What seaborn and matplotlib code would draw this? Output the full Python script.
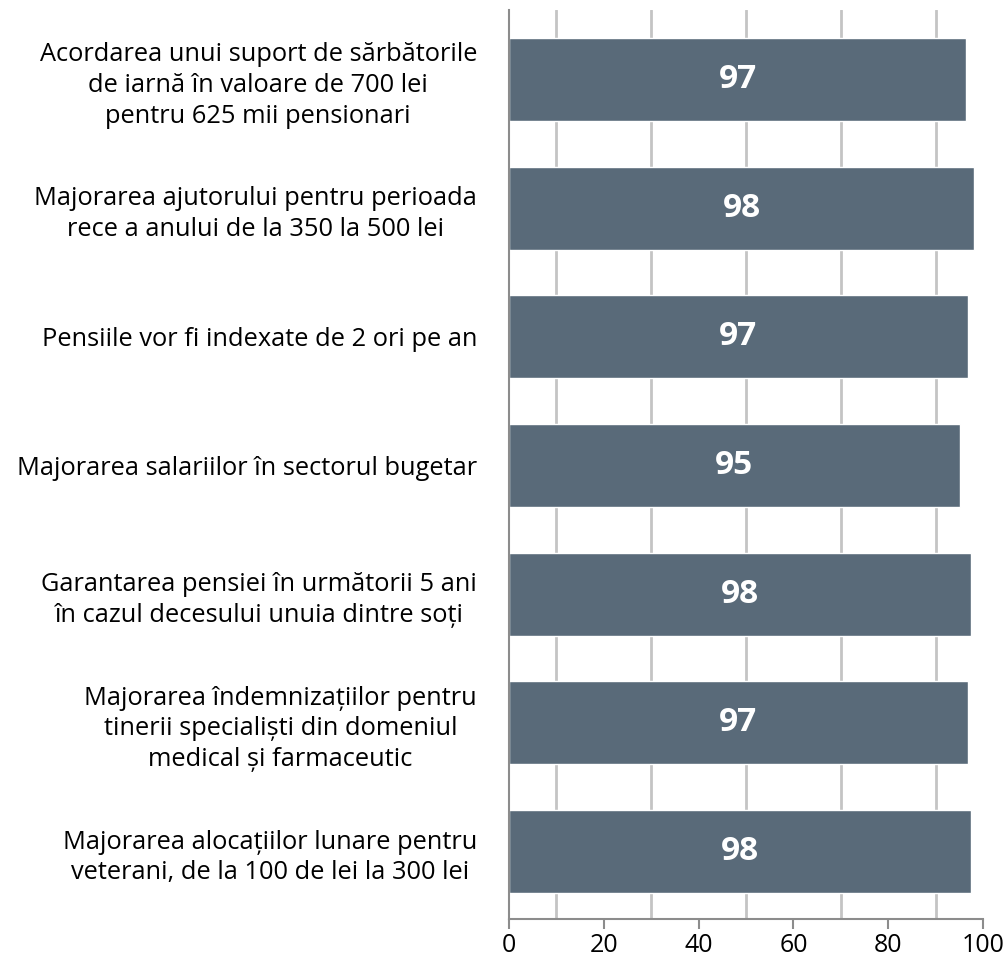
import matplotlib
matplotlib.use("Agg")
import matplotlib.pyplot as plt
import seaborn as sns
import pandas as pd
from matplotlib.ticker import FixedLocator

categories = [
    "Acordarea unui suport de sărbătorile\nde iarnă în valoare de 700 lei\npentru 625 mii pensionari",
    "Majorarea ajutorului pentru perioada\nrece a anului de la 350 la 500 lei",
    "Pensiile vor fi indexate de 2 ori pe an",
    "Majorarea salariilor în sectorul bugetar",
    "Garantarea pensiei în următorii 5 ani\nîn cazul decesului unuia dintre soți",
    "Majorarea îndemnizațiilor pentru\ntinerii specialiști din domeniul\nmedical și farmaceutic",
    "Majorarea alocațiilor lunare pentru\nveterani, de la 100 de lei la 300 lei",
]
values = [96.4, 98.1, 96.8, 95.1, 97.5, 96.8, 97.5]
value_labels = ["97", "98", "97", "95", "98", "97", "98"]
x_ticks = [0, 20, 40, 60, 80, 100]
grid_lines = [10, 30, 50, 70, 90]

sns.set_theme(style="white")
plt.rcParams['font.family'] = ['Open Sans', 'DejaVu Sans']

df = pd.DataFrame({"cat": categories, "val": values})

fig = plt.figure(figsize=(10.06, 9.57), dpi=100)
ax = fig.add_axes([509/1006, 1-919/957, (983-509)/1006, (919-10)/957])

sns.barplot(data=df, y="cat", x="val", color="#596a79", saturation=1,
            width=0.645, ax=ax, orient="h")

ax.set_xlim(0, 100)
ax.set_ylim(6.524, -0.540)
ax.xaxis.set_major_locator(FixedLocator(x_ticks))
ax.xaxis.set_minor_locator(FixedLocator(grid_lines))
ax.grid(False)
ax.grid(True, which="minor", axis="x", color="#c4c4c4", linewidth=2)
ax.set_axisbelow(True)

for s in ["top", "right"]:
    ax.spines[s].set_visible(False)
for s in ["left", "bottom"]:
    ax.spines[s].set_color("#8c8c8c")
    ax.spines[s].set_linewidth(1.5)

ax.tick_params(axis="x", which="major", direction="out", length=7, width=1.5,
               color="#8c8c8c", labelsize=18, pad=3, bottom=True, labelcolor="black")
ax.tick_params(axis="x", which="minor", length=0)
ax.tick_params(axis="y", length=0, labelsize=18.3, pad=23, labelcolor="black")
for lbl in ax.get_yticklabels():
    lbl.set_multialignment("center")
    lbl.set_linespacing(1.3)
ax.set_xlabel("")
ax.set_ylabel("")

for i, (v, t) in enumerate(zip(values, value_labels)):
    ax.text(v/2, i, t, ha="center", va="center", color="white",
            fontsize=24, fontweight="bold")

fig.savefig("out.png", dpi=100)
